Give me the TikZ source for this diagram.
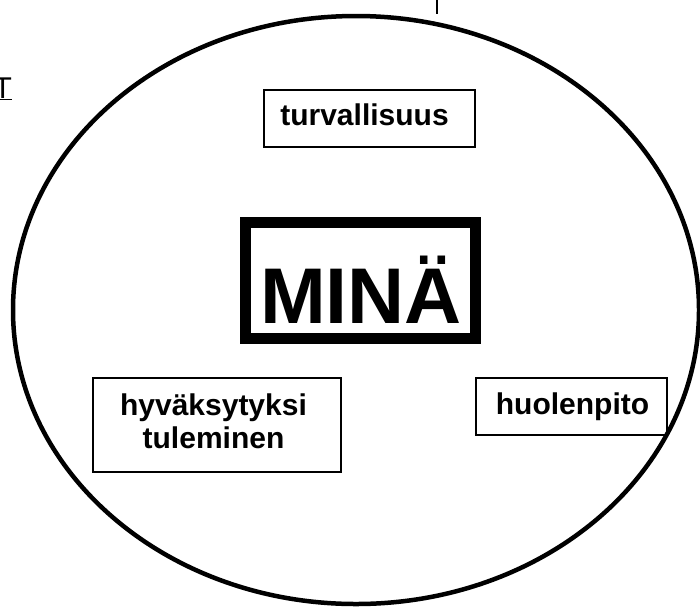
\documentclass[tikz,border=0pt]{standalone}
\usepackage{fontspec}
\setmainfont{Liberation Sans}
\usetikzlibrary{shapes.geometric}
\begin{document}
\begin{tikzpicture}[x=1pt,y=-1pt,
  thinbox/.style={draw, rectangle, line width=2pt, inner sep=0pt},
  minabox/.style={draw, rectangle, line width=11pt, inner sep=0pt, minimum width=230pt, minimum height=116pt},
  lbl/.style={font=\bfseries\fontsize{30}{33}\selectfont, inner sep=0pt, align=center},
  outerellipse/.style={draw, ellipse, line width=4.5pt, inner sep=0pt, minimum width=686pt, minimum height=588pt}]
\useasboundingbox (0,0) rectangle (700,606);
\node[outerellipse] (outer) at (356,310) {};
% top fragment line
\coordinate (tl1) at (437,0);
\coordinate (tl2) at (437,14);
\draw[line width=1.5pt] (tl1) -- (tl2);
% cut-off underlined letter at left
\node[anchor=base west, inner sep=0pt, font=\fontsize{30}{36}\selectfont] (tfrag) at (-6.5,98) {\underline{T}};
% boxes
\node[thinbox, minimum width=211pt, minimum height=57pt] (turvbox) at (369.5,118.5) {};
\node[lbl, anchor=base] (turv) at (364.5,125) {turvallisuus};
\node[minabox] (minabx) at (360.5,280.5) {};
\node[anchor=base, inner sep=0pt, font=\bfseries\fontsize{79}{85}\selectfont] (mina) at (361,323) {MINÄ};
\node[thinbox, minimum width=248pt, minimum height=94.5pt] (hyvbox) at (216.5,425) {};
\node[lbl, anchor=north] (hyv) at (213.5,394) {hyväksytyksi\\tuleminen};
\node[thinbox, minimum width=191pt, minimum height=57pt] (huolbox) at (571.5,406.5) {};
\node[lbl, anchor=base] (huol) at (572.5,414) {huolenpito};
\end{tikzpicture}
\end{document}
